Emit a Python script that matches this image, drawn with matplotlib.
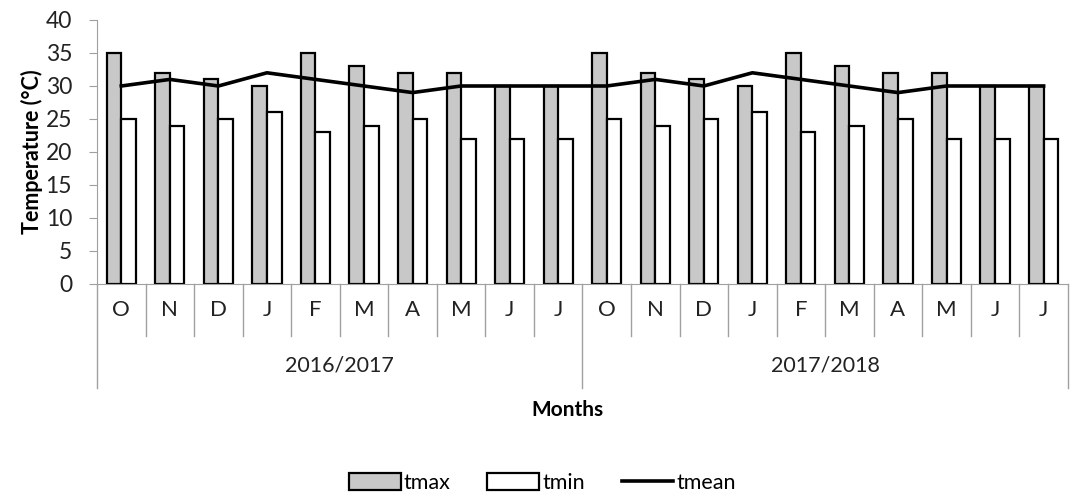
import matplotlib.pyplot as plt
import numpy as np

# data
months = ['O', 'N', 'D', 'J', 'F', 'M', 'A', 'M', 'J', 'J'] * 2
years = ['2016/2017', '2017/2018']
tmax = [35, 32, 31, 30, 35, 33, 32, 32, 30, 30,
        35, 32, 31, 30, 35, 33, 32, 32, 30, 30]
tmin = [25, 24, 25, 26, 23, 24, 25, 22, 22, 22,
        25, 24, 25, 26, 23, 24, 25, 22, 22, 22]
tmean = [30, 31, 30, 32, 31, 30, 29, 30, 30, 30,
         30, 31, 30, 32, 31, 30, 29, 30, 30, 30]

plt.rcParams['font.family'] = ['Lato', 'DejaVu Sans']

fig = plt.figure(figsize=(10.7, 4.95), dpi=100)
ax = fig.add_axes([0.0907, 0.4263, 0.9073, 0.5333])

x = np.arange(len(months))
w = 0.3
b1 = ax.bar(x - w / 2, tmax, w, color='#c8c8c8', edgecolor='black', linewidth=1.6, label='tmax')
b2 = ax.bar(x + w / 2, tmin, w, color='white', edgecolor='black', linewidth=1.6, label='tmin')
l1, = ax.plot(x, tmean, color='black', linewidth=2.6, label='tmean')

ax.set_xlim(-0.5, len(months) - 0.5)
ax.set_ylim(0, 40)
ax.set_yticks(range(0, 41, 5))
ax.tick_params(axis='y', labelsize=16.5, color='#a0a0a0', length=6, pad=12, labelcolor='#222222')
ax.set_xticks([])
for s in ['top', 'right']:
    ax.spines[s].set_visible(False)
ax.spines['left'].set_color('#a0a0a0')
ax.spines['bottom'].set_color('#a0a0a0')
ax.set_ylabel('Temperature (°C)', fontsize=15.5, fontweight='bold', labelpad=2)

tr = ax.get_xaxis_transform()
# category separators and labels
for i in range(len(months) + 1):
    xp = i - 0.5
    if i % 10 == 0:
        ax.plot([xp, xp], [0, -0.394], transform=tr, color='#a0a0a0', lw=1, clip_on=False)
    else:
        ax.plot([xp, xp], [0, -0.197], transform=tr, color='#a0a0a0', lw=1, clip_on=False)
for i, m in enumerate(months):
    ax.text(i, -0.1, m, transform=tr, ha='center', va='center', fontsize=16, color='#222222')
for k, yr in enumerate(years):
    ax.text(k * 10 + 4.5, -0.31, yr, transform=tr, ha='center', va='center', fontsize=15.5, color='#222222')

fig.text(0.53, 1 - 410 / 495, 'Months', ha='center', va='center', fontsize=15, fontweight='bold')

fig.legend(handles=[b1, b2, l1], loc='center', bbox_to_anchor=(0.507, 1 - 483 / 495), ncol=3,
           frameon=False, fontsize=15.5, handlelength=2.4, handleheight=0.8,
           handletextpad=0.15, columnspacing=1.7)

fig.savefig('out.png', dpi=100)
